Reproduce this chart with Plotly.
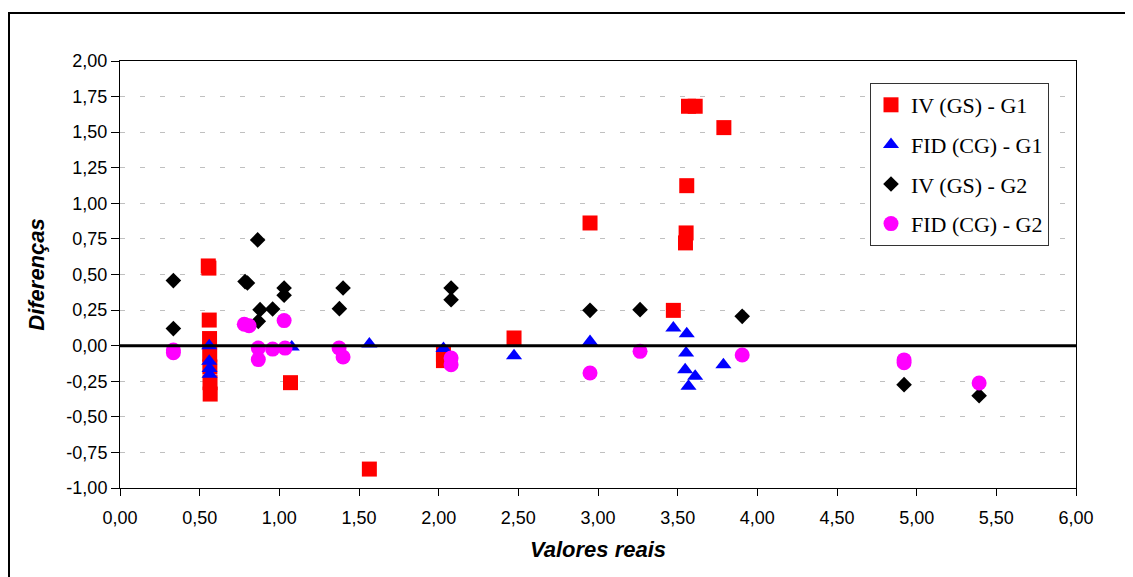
import plotly.graph_objects as go

# ---- data ----
iv_g1_x = [0.554, 0.558, 0.560, 0.562, 0.563, 0.564, 0.565, 0.566, 1.07, 1.565, 2.03, 2.03,
           2.473, 2.95, 3.473, 3.549, 3.553, 3.557, 3.568, 3.61, 3.79]
iv_g1_y = [0.56, 0.545, 0.18, 0.05, -0.06, -0.15, -0.26, -0.34, -0.26, -0.867, -0.06, -0.105,
           0.054, 0.862, 0.248, 0.722, 0.792, 1.124, 1.682, 1.682, 1.532]

fid_g1_x = [0.56, 0.56, 0.562, 0.562, 1.078, 1.565, 2.03, 2.473, 2.95, 3.473, 3.557,
            3.553, 3.547, 3.61, 3.568, 3.787]
fid_g1_y = [0.0, -0.11, -0.16, -0.20, -0.01, 0.012, -0.02, -0.07, 0.03, 0.124, 0.084,
            -0.052, -0.169, -0.215, -0.286, -0.134]

iv_g2_x = [0.335, 0.335, 0.785, 0.80, 0.864, 0.879, 0.868, 0.958, 1.03, 1.03, 1.40, 1.377,
           2.078, 2.078, 2.95, 3.264, 3.905, 4.921, 5.392]
iv_g2_y = [0.457, 0.12, 0.45, 0.44, 0.743, 0.253, 0.171, 0.258, 0.405, 0.354, 0.405, 0.26,
           0.405, 0.323, 0.248, 0.253, 0.206, -0.274, -0.351]

fid_g2_x = [0.335, 0.335, 0.78, 0.81, 0.868, 0.868, 0.958, 1.03, 1.036, 1.375, 1.40, 2.078,
            2.078, 2.95, 3.264, 3.905, 4.921, 4.921, 5.392]
fid_g2_y = [-0.03, -0.05, 0.15, 0.14, -0.017, -0.098, -0.024, 0.176, -0.017, -0.016, -0.08,
            -0.087, -0.134, -0.192, -0.04, -0.066, -0.10, -0.12, -0.262]

series_names = ["IV (GS) - G1", "FID (CG) - G1", "IV (GS) - G2", "FID (CG) - G2"]

x_tick_vals = [0, 0.5, 1, 1.5, 2, 2.5, 3, 3.5, 4, 4.5, 5, 5.5, 6]
x_tick_text = ["0,00", "0,50", "1,00", "1,50", "2,00", "2,50", "3,00", "3,50", "4,00",
               "4,50", "5,00", "5,50", "6,00"]
y_tick_vals = [-1, -0.75, -0.5, -0.25, 0, 0.25, 0.5, 0.75, 1, 1.25, 1.5, 1.75, 2]
y_tick_text = ["-1,00", "-0,75", "-0,50", "-0,25", "0,00", "0,25", "0,50", "0,75", "1,00",
               "1,25", "1,50", "1,75", "2,00"]

# page body has an 8px margin, so the figure starts at (8, 8) on screen
W, H = 1125, 569
L, T = 112, 53
R = W - (1076 - 8)
B = H - (488 - 8)
pw, ph = W - L - R, H - T - B

fig = go.Figure()
styles = [
    (iv_g1_x, iv_g1_y, "square", "#FF0000", 15),
    (fid_g1_x, fid_g1_y, "triangle-up", "#0000FF", 14),
    (iv_g2_x, iv_g2_y, "diamond", "#000000", 12),
    (fid_g2_x, fid_g2_y, "circle", "#FF00FF", 15),
]
for (xs, ys, sym, col, sz), name in zip(styles, series_names):
    fig.add_trace(go.Scatter(
        x=xs, y=ys, mode="markers", name=name, legendgroup=name,
        marker=dict(symbol=sym, color=col, size=sz, line=dict(width=0)),
    ))

axis_font = dict(family="Liberation Sans, Arial, sans-serif", size=18, color="#000000")
title_font = dict(family="Liberation Sans, Arial, sans-serif", size=22, color="#000000",
                  weight="bold", style="italic")

fig.update_layout(
    width=W, height=H,
    margin=dict(l=L, r=R, t=T, b=B, autoexpand=False),
    paper_bgcolor="white", plot_bgcolor="white",
    showlegend=True,
    legend=dict(
        x=(862 - L) / pw, y=(H - B - 75) / ph, xanchor="left", yanchor="top",
        bgcolor="white", bordercolor="#333333", borderwidth=1,
        font=dict(family="Liberation Serif, Times New Roman, serif", size=22, color="#000000"),
        tracegroupgap=8, traceorder="grouped",
    ),
    xaxis=dict(
        range=[0, 6], tickmode="array", tickvals=x_tick_vals, ticktext=x_tick_text,
        showgrid=False, zeroline=False, showline=True, linecolor="#000000", linewidth=1,
        mirror=True, ticks="outside", ticklen=7, tickcolor="#000000", tickfont=axis_font,
        ticklabelstandoff=6,
        title=dict(text="Valores reais", font=title_font, standoff=15),
    ),
    yaxis=dict(
        range=[-1, 2], tickmode="array", tickvals=y_tick_vals, ticktext=y_tick_text,
        showgrid=True, gridcolor="#C0C0C0", gridwidth=1, griddash="5px,15px",
        zeroline=False, showline=True, linecolor="#000000", linewidth=1,
        mirror=True, ticks="outside", ticklen=8, tickcolor="#000000", tickfont=axis_font,
        title=dict(text="Diferenças", font=title_font, standoff=15),
    ),
    shapes=[
        # zero reference line drawn above markers
        dict(type="line", xref="paper", yref="y", x0=0, x1=1, y0=0, y1=0,
             line=dict(color="#000000", width=3), layer="above"),
        # outer chart frame
        dict(type="rect", xref="paper", yref="paper",
             x0=(1 - L) / pw, x1=(W + 20 - L) / pw,
             y0=-(B + 20) / ph, y1=(H - B - 5) / ph,
             line=dict(color="#000000", width=2), fillcolor="rgba(0,0,0,0)", layer="below"),
    ],
)

fig.write_html("out.html")
